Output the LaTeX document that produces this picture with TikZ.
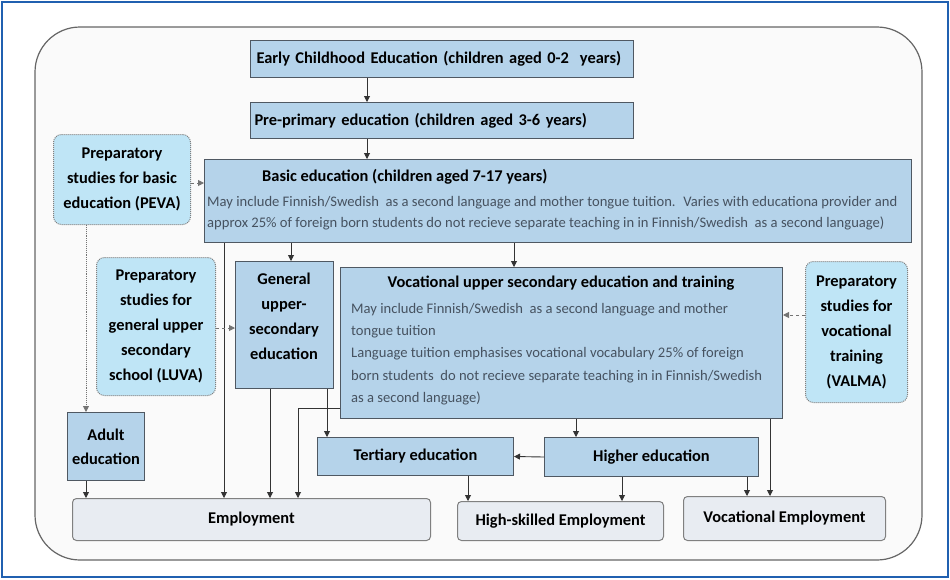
\documentclass[tikz,border=0pt]{standalone}
\usepackage{fontspec}
\setmainfont{Carlito}
\usetikzlibrary{arrows.meta}

\definecolor{boxblue}{HTML}{B5D3EA}
\definecolor{prepblue}{HTML}{BFE5F6}
\definecolor{empgray}{HTML}{E8ECF2}
\definecolor{frameblue}{HTML}{2060B0}
\definecolor{bodytext}{HTML}{465260}
\definecolor{linegray}{HTML}{4F5862}

\tikzset{
  edubox/.style={draw=linegray, line width=1pt, fill=boxblue, anchor=north west, inner sep=0pt,
    font=\fontsize{16.4}{19}\selectfont\bfseries, align=center},
  prepbox/.style={edubox, draw=black!50, densely dotted, fill=prepblue, rounded corners=8pt,
    font=\fontsize{16.4}{25}\selectfont\bfseries},
  empbox/.style={edubox, draw=black!50, fill=empgray, rounded corners=4pt},
  boldtext/.style={inner sep=0pt, font=\fontsize{16.4}{25}\selectfont\bfseries, align=center},
  bodytxt/.style={inner sep=0pt, text=bodytext, font=\fontsize{14.6}{21.5}\selectfont, align=left},
  arr/.style={-{Triangle[length=6pt,width=6pt]}, line width=0.9pt, black!80},
  prepline/.style={arr, dashed, black!55}
}

\begin{document}
\begin{tikzpicture}[x=1pt,y=-1pt]
    \useasboundingbox (0,0) rectangle (950,579);
    % Frames
    \draw[frameblue, line width=2pt, fill=white] (2,2) rectangle (948,577);
    \draw[black!60, line width=1.2pt, fill=black!2, rounded corners=45pt] (35,27) rectangle (922,560);

    % Main path
    \node[edubox, minimum width=383, minimum height=37, text width=371, align=left] (early) at (250,40)
        {Early Childhood Education (children aged 0-2 ~years)};
    \node[edubox, minimum width=383, minimum height=36, text width=375, align=left] (pre) at (250,102)
        {Pre-primary education (children aged 3-6 years)};
    \node[edubox, minimum width=707, minimum height=83] (basic) at (204,159) {};
    \node[boldtext, anchor=west] at (262,177) {Basic education (children aged 7-17 years)};
    \node[bodytxt, anchor=west] at (207,213)
        {May include Finnish/Swedish ~as a second language and mother tongue tuition. ~Varies with educationa provider and\\
         approx 25\% of foreign born students do not recieve separate teaching in in Finnish/Swedish ~as a second language)};

    % Preparatory studies
    \node[prepbox, minimum width=137, minimum height=90] (peva) at (53,134)
        {Preparatory\\studies for basic\\education (PEVA)};
    \node[prepbox, minimum width=119, minimum height=138] (luva) at (96,257)
        {Preparatory\\studies for\\general upper\\secondary\\school (LUVA)};
    \node[prepbox, minimum width=102, minimum height=141] (valma) at (805,261)
        {Preparatory\\studies for\\vocational\\training\\(VALMA)};

    % Upper secondary
    \node[edubox, minimum width=98, minimum height=127] (gen) at (235,261) {};
    \node[boldtext] at (284,316) {General\\upper-\\secondary\\education};
    \node[edubox, minimum width=442, minimum height=151] (voc) at (340,267) {};
    \node[boldtext] at (561,283) {Vocational upper secondary education and training};
    \node[bodytxt, anchor=north west, font=\fontsize{14.6}{22.3}\selectfont] at (351,303)
        {May include Finnish/Swedish ~as a second language and mother\\
         tongue tuition\\
         Language tuition emphasises vocational vocabulary 25\% of foreign\\
         born students ~do not recieve separate teaching in in Finnish/Swedish\\
         as a second language)};

    % Further education
    \node[edubox, minimum width=77, minimum height=68, font=\fontsize{16.4}{24}\selectfont\bfseries] (adult) at (67,412)
        {Adult\\education};
    \node[edubox, minimum width=196, minimum height=38] (tert) at (317,437) {Tertiary education};
    \node[edubox, minimum width=214, minimum height=39] (higher) at (544,437) {Higher education};

    % Employment
    \node[empbox, minimum width=358, minimum height=42] (emp) at (72,498) {Employment};
    \node[empbox, minimum width=206, minimum height=39] (hiskill) at (457,501) {High-skilled Employment};
    \node[empbox, minimum width=202, minimum height=44] (vocemp) at (683,496) {Vocational Employment};

    % Connectors
    \draw[arr] (early.south -| 367,0) -- (pre.north -| 367,0);
    \draw[arr] (pre.south -| 367,0) -- (basic.north -| 367,0);
    \draw[prepline] (peva.east |- 0,183) -- (basic.west |- 0,183);
    \draw[arr, densely dotted, black!55] (peva.south -| 86,0) -- (adult.north -| 86,0);
    \draw[arr] (basic.south -| 291,0) -- (gen.north -| 291,0);
    \draw[arr] (basic.south -| 514,0) -- (voc.north -| 514,0);
    \draw[arr] (basic.south -| 224,0) -- (emp.north -| 224,0);
    \draw[prepline] (luva.east |- 0,328) -- (gen.west |- 0,328);
    \draw[arr] (gen.south -| 270,0) -- (emp.north -| 270,0);
    \draw[arr] (gen.south -| 327,0) -- (tert.north -| 327,0);
    \draw[arr] (voc.west |- 0,408) -| (emp.north -| 298,0);
    \draw[prepline] (valma.west |- 0,315) -- (voc.east |- 0,315);
    \draw[arr] (voc.south -| 576,0) -- (higher.north -| 576,0);
    \draw[arr] (voc.south -| 770,0) -- (vocemp.north -| 770,0);
    \draw[arr] (higher.west) -- (tert.east);
    \draw[arr] (higher.south -| 747,0) -- (vocemp.north -| 747,0);
    \draw[arr] (higher.south -| 622,0) -- (hiskill.north -| 622,0);
    \draw[arr] (tert.south -| 468,0) -- (hiskill.north -| 468,0);
    \draw[arr] (adult.south -| 86,0) -- (emp.north -| 86,0);
\end{tikzpicture}
\end{document}
